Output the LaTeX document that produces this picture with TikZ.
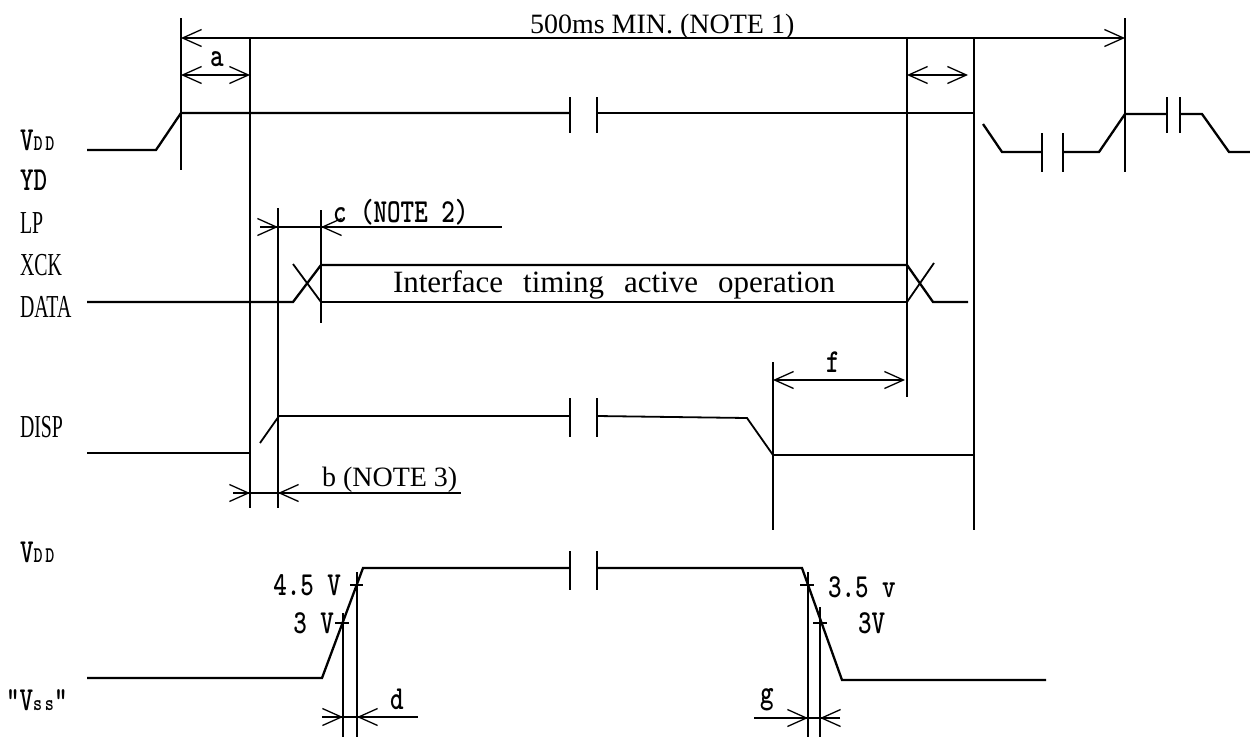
\documentclass[tikz,border=0pt]{standalone}
\usepackage{fontspec}
\setmainfont{Liberation Serif}
\newfontfamily\labmono{lmmonolt10-bold.otf}
\usepackage{graphicx}
\usetikzlibrary{arrows.meta}
\newcommand{\monolab}[2][30]{{\fontsize{#1}{#1}\labmono\scalebox{0.86}[1.12]{#2}}}
\newcommand{\condlab}[1]{{\fontsize{32}{32}\selectfont\scalebox{0.62}[1]{#1}}}
\begin{document}
\begin{tikzpicture}[x=1pt,y=-1pt,
  sig/.style={line width=2.3pt, line join=miter},
  thinln/.style={line width=1.2pt},
  vbar/.style={line width=2.5pt},
  brk/.style={line width=1.4pt},
  dim/.style={line width=1.3pt},
  dimar/.style={-{Straight Barb[length=19pt,width=17pt,line width=1.3pt]}},
  dimdbl/.style={{Straight Barb[length=19pt,width=17pt,line width=1.3pt]}-{Straight Barb[length=19pt,width=17pt,line width=1.3pt]}},
  txt/.style={inner sep=0pt, outer sep=0pt}
]
\useasboundingbox (0,0) rectangle (1250,737);

% ---------- labels ----------
\node[txt, anchor=west] (lvdd1) at (20,140) {\monolab{V{\fontsize{20}{20}\selectfont D\,D}}};
\node[txt, anchor=west] (lyd) at (20,180) {\monolab[30]{YD}};
\node[txt, anchor=west] (llp) at (20,223) {\condlab{LP}};
\node[txt, anchor=west] (lxck) at (20,265) {\condlab{XCK}};
\node[txt, anchor=west] (ldata) at (20,307) {\condlab{DATA}};
\node[txt, anchor=west] (ldisp) at (20,427) {\condlab{DISP}};
\node[txt, anchor=west] (lvdd2) at (20,552) {\monolab{V{\fontsize{20}{20}\selectfont D\,D}}};
\node[txt, anchor=west] (lvss) at (6,700) {\monolab{“V{\fontsize{20}{20}\selectfont s\,s}”}};

\node[txt, anchor=base west, font=\fontsize{28}{28}\selectfont] (t500) at (530,33) {500ms MIN. (NOTE 1)};
\node[txt, anchor=base west, font=\fontsize{31}{31}\selectfont] (tif) at (393,292)
  {Interface\hspace{20pt}timing\hspace{20pt}active\hspace{20pt}operation};
\node[txt, anchor=base west, font=\fontsize{28}{28}\selectfont] (tb) at (322,486) {b (NOTE 3)};

\node[txt] (ta) at (217,59) {\monolab{a}};
\node[txt, anchor=west] (tc) at (333,212) {\monolab{c (NOTE 2)}};
\node[txt] (tf) at (833,362) {\monolab{f}};
\node[txt] (td) at (397,699) {\monolab{d}};
\node[txt] (tg) at (767,700) {\monolab{g}};
\node[txt, anchor=east] (t45) at (341,585) {\monolab{4.5 V}};
\node[txt, anchor=east] (t3a) at (334,623) {\monolab{3 V}};
\node[txt, anchor=west] (t35) at (828,587) {\monolab{3.5 v}};
\node[txt, anchor=west] (t3b) at (858,623) {\monolab{3V}};

% ---------- dimension lines ----------
\draw[dim, line width=1.8pt, dimdbl] (181,38) -- (1125,38);
\draw[dim, dimdbl] (181,75) -- (250,75);
\draw[dim, dimdbl] (907,75) -- (968,75);
\draw[dim, dimdbl] (773,380) -- (905,380);
% c
\draw[dim] (260,227) -- (502,227);
\draw[dim, dimar] (260,227) -- (278,227);
\draw[dim, dimar] (340,227) -- (321,227);
% b
\draw[dim] (233,493) -- (461,493);
\draw[dim, dimar] (233,493) -- (250,493);
\draw[dim, dimar] (300,493) -- (278,493);
% d
\draw[dim] (322,717) -- (418,717);
\draw[dim, dimar] (322,717) -- (343,717);
\draw[dim, dimar] (380,717) -- (357,717);
% g
\draw[dim] (754,718) -- (840,718);
\draw[dim, dimar] (780,718) -- (808,718);
\draw[dim, dimar] (840,718) -- (820,718);

% ---------- vertical reference lines ----------
\draw[thinln] (181,18) -- (181,170);
\draw[vbar] (250,38) -- (250,508);
\draw[thinln] (278,208) -- (278,508);
\draw[thinln] (321,210) -- (321,323);
\draw[line width=1.8pt] (907,38) -- (907,397);
\draw[vbar] (974,38) -- (974,530);
\draw[thinln] (773,362) -- (773,530);
\draw[thinln] (1125,18) -- (1125,172);

% ---------- VDD (top) ----------
\draw[sig] (87,150) -- (156,150) -- (181,113) -- (570,113);
\draw[sig] (597,113) -- (974,113);
\draw[brk] (570,97) -- (570,133) (597,97) -- (597,133);
\draw[sig] (983,124) -- (1002,152) -- (1042,152);
\draw[brk] (1042,133) -- (1042,172) (1063,133) -- (1063,172);
\draw[sig] (1063,152) -- (1099,152) -- (1125,114) -- (1167,114);
\draw[brk] (1167,97) -- (1167,133) (1180,97) -- (1180,133);
\draw[sig] (1180,114) -- (1202,114) -- (1229,152) -- (1250,152);

% ---------- YD / LP / XCK / DATA ----------
\draw[sig] (87,302) -- (293,302) -- (321,265) -- (907,265) -- (933,302) -- (968,302);
\draw[line width=1.8pt] (293,264) -- (321,302) -- (907,302) -- (934,263);

% ---------- DISP ----------
\draw[sig] (87,453) -- (250,453);
\draw[line width=1.8pt] (260,443) -- (279,416) -- (570,416);
\draw[brk] (570,398) -- (570,437) (597,398) -- (597,437);
\draw[line width=1.8pt] (597,416) -- (747,418) -- (773,455) -- (974,455);

% ---------- VDD (bottom) ----------
\draw[sig] (87,678) -- (322,678) -- (363,568) -- (570,568);
\draw[brk] (570,551) -- (570,590) (597,551) -- (597,590);
\draw[sig] (597,568) -- (802,568) -- (842,680) -- (1046,680);

% ticks and reference lines
\draw[thinln] (335,623) -- (349,623) (350,585) -- (363,585);
\draw[thinln] (800,585) -- (814,585) (813,623) -- (827,623);
\draw[thinln] (343,613) -- (343,737) (357,572) -- (357,737);
\draw[thinln] (808,572) -- (808,737) (820,607) -- (820,737);
\end{tikzpicture}
\end{document}
